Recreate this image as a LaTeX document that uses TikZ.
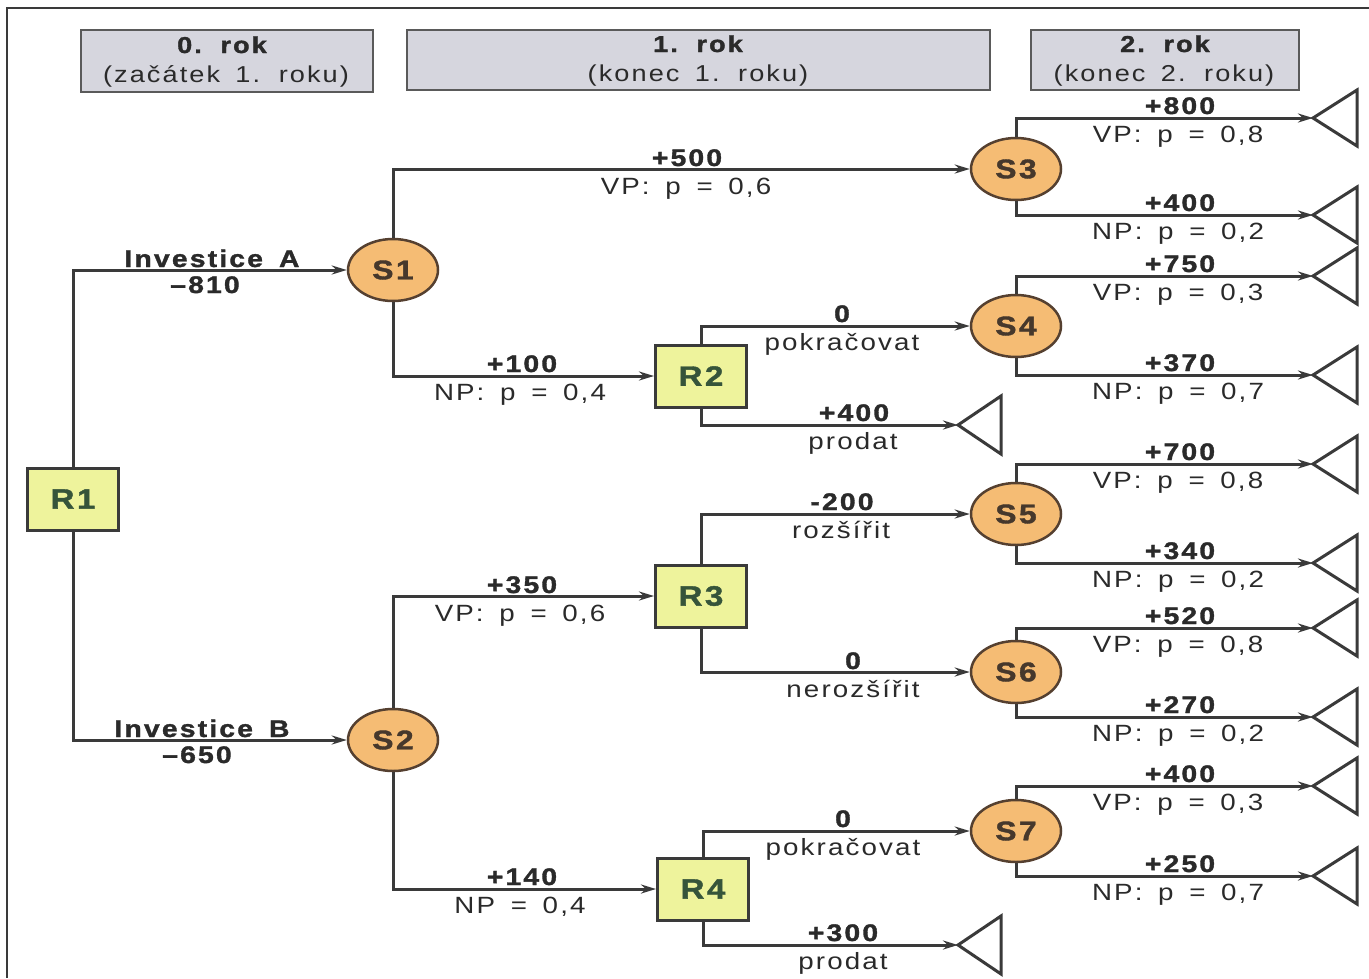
\documentclass[tikz,border=0pt]{standalone}
\usepackage{fontspec}
\setmainfont[FakeStretch=1.18,LetterSpace=9,WordSpace=1.6,BoldFeatures={FakeBold=1.4}]{Liberation Sans}
\usetikzlibrary{shapes.geometric,arrows.meta}
\definecolor{linec}{HTML}{3A3A3A}
\definecolor{txtc}{HTML}{2A2A2A}
\definecolor{hdrfill}{HTML}{D6D6DE}
\definecolor{hdrdraw}{HTML}{5A5A5A}
\definecolor{rfill}{HTML}{EEF39C}
\definecolor{rtext}{HTML}{36543A}
\definecolor{sfill}{HTML}{F5BC74}
\definecolor{sdraw}{HTML}{554030}
\definecolor{stext}{HTML}{46382C}
\begin{document}
\begin{tikzpicture}[x=1pt,y=-1pt,
  conn/.style={draw=linec,line width=3pt,-{Stealth[length=15pt,width=9pt]}},
  term/.style={draw=linec,line width=3pt,line join=miter},
  hdr/.style={draw=hdrdraw,fill=hdrfill,line width=1.5pt,inner sep=0pt},
  htop/.style={font=\fontsize{23}{26}\selectfont\bfseries,text=txtc,anchor=base,inner sep=0pt},
  hbot/.style={font=\fontsize{23}{26}\selectfont,text=txtc,anchor=base,inner sep=0pt},
  rnode/.style={rectangle,draw=linec,fill=rfill,line width=3pt,minimum width=91pt,minimum height=62pt,inner sep=0pt,text=rtext,font=\fontsize{28}{30}\selectfont\bfseries},
  snode/.style={ellipse,draw=sdraw,fill=sfill,line width=2.5pt,minimum width=90pt,minimum height=62pt,inner sep=0pt,text=stext,font=\fontsize{27}{30}\selectfont\bfseries},
  lb/.style={font=\fontsize{24}{28}\selectfont\bfseries,text=txtc,anchor=base,inner sep=0pt},
  lr/.style={font=\fontsize{23.5}{28}\selectfont,text=txtc,anchor=base,inner sep=0pt}]
\useasboundingbox (0,0) rectangle (1369,978);
\fill[white] (0,0) rectangle (1369,978);
% frame
\draw[linec,line width=2pt] (1369,8) -- (7,8) -- (7,978);
% headers
\node[hdr,minimum width=292pt,minimum height=62pt] (h0) at (227,61) {};
\node[htop] (h0a) at (222,53) {0. rok};
\node[hbot] (h0b) at (226,82) {(začátek 1. roku)};
\node[hdr,minimum width=583pt,minimum height=60pt] (h1) at (698.5,60) {};
\node[htop] (h1a) at (698,52) {1. rok};
\node[hbot] (h1b) at (698,81) {(konec 1. roku)};
\node[hdr,minimum width=268pt,minimum height=60pt] (h2) at (1165,60) {};
\node[htop] (h2a) at (1165,52) {2. rok};
\node[hbot] (h2b) at (1164,81) {(konec 2. roku)};
% decision nodes
\node[rnode] (R1) at (73,499) {R1};
\node[rnode] (R2) at (701,376) {R2};
\node[rnode] (R3) at (701,596) {R3};
\node[rnode] (R4) at (703,889) {R4};
% chance nodes
\node[snode] (S1) at (393,270) {S1};
\node[snode] (S2) at (393,740) {S2};
\node[snode] (S3) at (1016,169) {S3};
\node[snode] (S4) at (1016,326) {S4};
\node[snode] (S5) at (1016,514) {S5};
\node[snode] (S6) at (1016,672) {S6};
\node[snode] (S7) at (1016,831) {S7};
% terminal triangles, right column
\foreach \n/\yy/\b/\r in {
  a/118/+800/{VP: p = 0,8},
  b/215/+400/{NP: p = 0,2},
  c/276/+750/{VP: p = 0,3},
  d/375/+370/{NP: p = 0,7},
  e/464/+700/{VP: p = 0,8},
  f/563/+340/{NP: p = 0,2},
  g/628/+520/{VP: p = 0,8},
  h/717/+270/{NP: p = 0,2},
  i/786/+400/{VP: p = 0,3},
  j/876/+250/{NP: p = 0,7}} {
  \coordinate (t\n) at (1313,\yy);
  \draw[term] (t\n) -- ++(44,-28) -- ++(0,56) -- cycle;
  \node[lb] (b\n) at (1180,\yy-4) {\b};
  \node[lr] (r\n) at (1178,\yy+24) {\r};
}
% terminal triangles, prodat
\coordinate (tp1) at (958,425);
\coordinate (tp2) at (958,945);
\draw[term] (tp1) -- ++(43,-29) -- ++(0,58) -- cycle;
\draw[term] (tp2) -- ++(43,-29) -- ++(0,58) -- cycle;
% connectors
\draw[conn] (R1.north) |- (S1.west);
\draw[conn] (R1.south) |- (S2.west);
\draw[conn] (S1.north) |- (S3.west);
\draw[conn] (S1.south) |- (R2.west);
\draw[conn] (S2.north) |- (R3.west);
\draw[conn] (S2.south) |- (R4.west);
\draw[conn] (R2.north) |- (S4.west);
\draw[conn] (R2.south) |- (tp1);
\draw[conn] (R3.north) |- (S5.west);
\draw[conn] (R3.south) |- (S6.west);
\draw[conn] (R4.north) |- (S7.west);
\draw[conn] (R4.south) |- (tp2);
\draw[conn] (S3.north) |- (ta);
\draw[conn] (S3.south) |- (tb);
\draw[conn] (S4.north) |- (tc);
\draw[conn] (S4.south) |- (td);
\draw[conn] (S5.north) |- (te);
\draw[conn] (S5.south) |- (tf);
\draw[conn] (S6.north) |- (tg);
\draw[conn] (S6.south) |- (th);
\draw[conn] (S7.north) |- (ti);
\draw[conn] (S7.south) |- (tj);
% labels
\node[lb] (lA1) at (212,267) {Investice A};
\node[lb] (lA2) at (205,293) {–810};
\node[lb] (lB1) at (202,737) {Investice B};
\node[lb] (lB2) at (197,763) {–650};
\node[lb] (l31) at (687,166) {+500};
\node[lr] (l32) at (686,194) {VP: p = 0,6};
\node[lb] (l41) at (522,372) {+100};
\node[lr] (l42) at (520,400) {NP: p = 0,4};
\node[lb] (l51) at (522,593) {+350};
\node[lr] (l52) at (520,621) {VP: p = 0,6};
\node[lb] (l61) at (522,885) {+140};
\node[lr] (l62) at (520,913) {NP = 0,4};
\node[lb] (l71) at (842,322) {0};
\node[lr] (l72) at (842,350) {pokračovat};
\node[lb] (l81) at (854,421) {+400};
\node[lr] (l82) at (853,449) {prodat};
\node[lb] (l91) at (842,510) {-200};
\node[lr] (l92) at (841,538) {rozšířit};
\node[lb] (l101) at (853,669) {0};
\node[lr] (l102) at (853,697) {nerozšířit};
\node[lb] (l111) at (843,827) {0};
\node[lr] (l112) at (843,855) {pokračovat};
\node[lb] (l121) at (843,941) {+300};
\node[lr] (l122) at (843,969) {prodat};
\end{tikzpicture}
\end{document}
